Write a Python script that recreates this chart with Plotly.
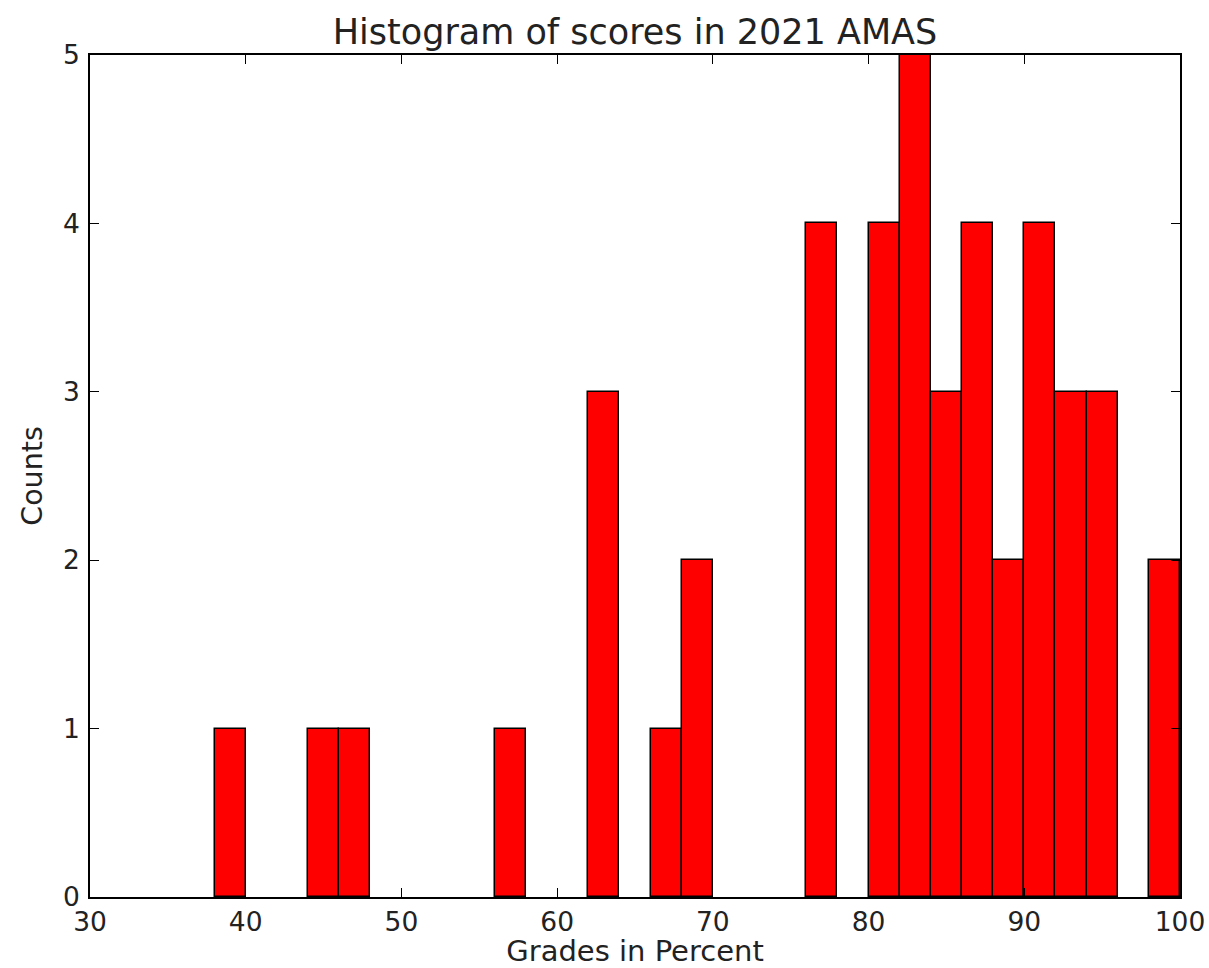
import plotly.graph_objects as go

bin_starts = [38, 44, 46, 56, 62, 66, 68, 76, 80, 82, 84, 86, 88, 90, 92, 94, 98]
counts = [1, 1, 1, 1, 3, 1, 2, 4, 4, 5, 3, 4, 2, 4, 3, 3, 2]
bin_width = 2
x_ticks = [30, 40, 50, 60, 70, 80, 90, 100]
y_ticks = [0, 1, 2, 3, 4, 5]

font = "DejaVu Sans"

fig = go.Figure(go.Bar(
    x=[s + bin_width / 2 for s in bin_starts],
    y=counts,
    width=[bin_width] * len(bin_starts),
    marker=dict(color="#FF0000", line=dict(color="black", width=1.5)),
))

fig.update_layout(
    width=1209, height=968,
    margin=dict(l=90, r=29, t=55, b=71),
    paper_bgcolor="white", plot_bgcolor="white",
    font=dict(family=font, color="#222222", size=26),
    showlegend=False,
    bargap=0,
    title=dict(text="Histogram of scores in 2021 AMAS", xref="paper", x=0.5, xanchor="center",
               y=1 - 32 / 968, yanchor="middle", font=dict(size=35)),
    xaxis=dict(
        range=[30, 100], tickvals=x_ticks, ticks="inside", ticklen=9, tickwidth=1,
        tickcolor="black", showline=True, linecolor="black", linewidth=1.5,
        mirror="ticks", showgrid=False, zeroline=False, automargin=False,
        tickfont=dict(size=26.5),
        title=dict(text="Grades in Percent", font=dict(size=29), standoff=13),
    ),
    yaxis=dict(
        range=[0, 5], tickvals=y_ticks, ticks="inside", ticklen=9, tickwidth=1,
        tickcolor="black", showline=True, linecolor="black", linewidth=1.5,
        mirror="ticks", showgrid=False, zeroline=False, automargin=False,
        tickfont=dict(size=26.5), ticklabelstandoff=3,
        title=dict(text="Counts", font=dict(size=28.5), standoff=12),
    ),
)

fig.write_html(
    "out.html",
    config={"displayModeBar": False},
    post_script="document.body.style.margin='0';document.body.style.overflow='hidden';",
)
